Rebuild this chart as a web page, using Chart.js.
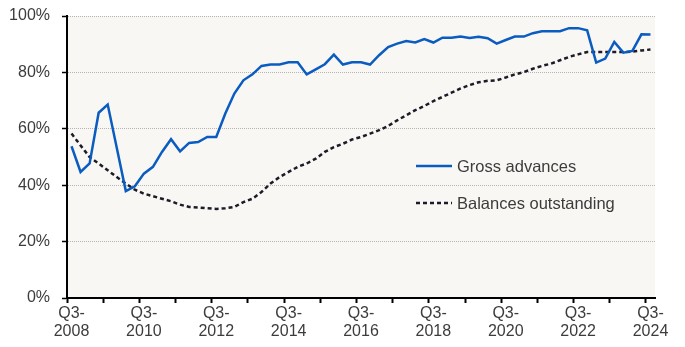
<!DOCTYPE html>
<html>
<head>
<meta charset="utf-8">
<script src="https://cdn.jsdelivr.net/npm/chart.js@4/dist/chart.umd.min.js"></script>
<style>
  html, body { margin: 0; padding: 0; background: #fff; }
</style>
</head>
<body>
<canvas id="lendingChart" width="685" height="347"></canvas>
<script>
// quarterly categories, Q3-2008 .. Q3-2024
const quarters = [];
for (let y = 2008, q = 3; y < 2024 || (y === 2024 && q <= 3); ) {
    quarters.push('Q' + q + '-' + y);
    q++;
    if (q > 4) { q = 1; y++; }
}

const grossAdvances = [
    53.8, 44.7, 47.7, 65.7, 68.6, 53.3, 37.9, 39.6, 44.1, 46.5,
    51.8, 56.3, 52.0, 55.0, 55.3, 57.1, 57.1, 65.4, 72.5, 77.2,
    79.3, 82.3, 82.8, 82.8, 83.6, 83.6, 79.3, 81.1, 82.9, 86.3,
    82.8, 83.6, 83.6, 82.8, 86.1, 89.0, 90.2, 91.1, 90.6, 91.8,
    90.6, 92.3, 92.3, 92.7, 92.2, 92.6, 92.1, 90.2, 91.5, 92.7,
    92.7, 93.9, 94.6, 94.6, 94.6, 95.7, 95.7, 94.9, 83.5, 84.9,
    90.8, 87.0, 87.6, 93.5, 93.4
];

const balancesOutstanding = [
    58.3, 54.1, 50.0, 47.7, 45.3, 42.9, 40.6, 38.4, 37.0, 36.1,
    35.2, 34.3, 33.1, 32.3, 32.1, 31.8, 31.6, 31.8, 32.3, 34.0,
    35.2, 37.6, 40.6, 42.9, 44.7, 46.5, 47.7, 49.4, 51.8, 53.5,
    54.7, 56.2, 57.1, 58.3, 59.5, 61.0, 63.0, 64.8, 66.6, 68.1,
    69.8, 71.3, 72.8, 74.3, 75.5, 76.5, 77.0, 77.2, 78.2, 79.3,
    80.1, 81.3, 82.3, 83.1, 84.3, 85.5, 86.4, 87.2, 87.2, 87.2,
    87.2, 87.2, 87.4, 87.8, 88.1
];

const seriesNames = ['Gross advances', 'Balances outstanding'];
const blue = '#0b5cc0';
const dark = '#1c1c28';
const dashPattern = [4, 3];
const textColor = '#3c3c3c';

Chart.defaults.font.family = '"Liberation Sans", Arial, sans-serif';
Chart.defaults.font.size = 16;
Chart.defaults.color = textColor;

// beige fill behind the plot
const plotBackground = {
    id: 'plotBackground',
    beforeDraw(chart) {
        const {ctx, chartArea: a} = chart;
        ctx.save();
        ctx.fillStyle = '#f8f7f3';
        ctx.fillRect(a.left, a.top, a.right - a.left, a.bottom - a.top);
        ctx.restore();
    }
};

// legend sits inside the plot, right of centre
const insideLegend = {
    id: 'insideLegend',
    afterDraw(chart) {
        const ctx = chart.ctx;
        const rows = [
            {y: 166, color: blue, dash: []},
            {y: 203, color: dark, dash: dashPattern}
        ];
        ctx.save();
        ctx.font = '16.5px "Liberation Sans", Arial, sans-serif';
        ctx.textBaseline = 'middle';
        rows.forEach((r, i) => {
            ctx.beginPath();
            ctx.setLineDash(r.dash);
            ctx.lineWidth = 2.5;
            ctx.strokeStyle = r.color;
            ctx.moveTo(416, r.y);
            ctx.lineTo(452, r.y);
            ctx.stroke();
            ctx.fillStyle = textColor;
            ctx.fillText(seriesNames[i], 457, r.y + 1);
        });
        ctx.restore();
    }
};

const ctx = document.getElementById('lendingChart');

new Chart(ctx, {
    type: 'line',
    data: {
        labels: quarters,
        datasets: [{
            label: seriesNames[0],
            data: grossAdvances,
            borderColor: blue,
            borderWidth: 2.5,
            pointRadius: 0,
            tension: 0
        }, {
            label: seriesNames[1],
            data: balancesOutstanding,
            borderColor: dark,
            borderWidth: 2.5,
            borderDash: dashPattern,
            pointRadius: 0,
            tension: 0
        }]
    },
    options: {
        responsive: false,
        animation: false,
        layout: { padding: { top: 16, right: 30, left: 0, bottom: 0 } },
        plugins: {
            legend: { display: false },
            tooltip: { enabled: false }
        },
        scales: {
            x: {
                offset: true,
                afterFit(scale) {
                    scale.height = 49;
                    scale.paddingLeft = 0;
                    scale.paddingRight = 0;
                },
                grid: {
                    offset: true,
                    drawOnChartArea: false,
                    tickLength: 5,
                    tickWidth: 2,
                    tickColor: c => c.index % 4 === 0 ? '#000' : 'rgba(0,0,0,0)'
                },
                border: { color: '#000', width: 2 },
                ticks: {
                    autoSkip: false,
                    maxRotation: 0,
                    minRotation: 0,
                    padding: 1,
                    color: textColor,
                    font: { size: 16, lineHeight: 1.17 },
                    callback: (v, i) => i % 8 === 0 ? ['Q3-', quarters[i].slice(3)] : ''
                }
            },
            y: {
                min: 0,
                max: 100,
                afterFit(scale) {
                    scale.width = 67;
                    scale.paddingTop = 0;
                    scale.paddingBottom = 0;
                },
                grid: {
                    color: '#b4b4b4',
                    lineWidth: 1,
                    tickLength: 5,
                    tickWidth: 1.5,
                    tickColor: '#000',
                    tickBorderDash: []
                },
                border: { color: '#000', width: 2, dash: [1, 1] },
                ticks: {
                    stepSize: 20,
                    padding: 12,
                    color: textColor,
                    callback: v => v + '%'
                }
            }
        }
    },
    plugins: [plotBackground, insideLegend]
});
</script>
</body>
</html>
